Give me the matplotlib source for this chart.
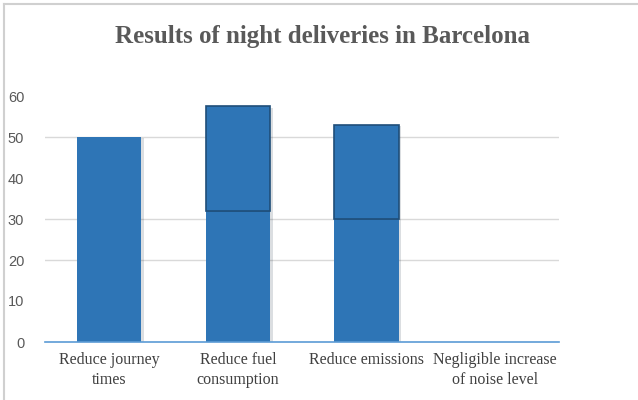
import matplotlib.pyplot as plt
import matplotlib.patheffects as pe
import numpy as np

categories = ["Reduce journey\ntimes", "Reduce fuel\nconsumption", "Reduce emissions",
              "Negligible increase\nof noise level"]
base_vals = [50, 32, 30, 0]
top_vals = [0, 25.5, 23, 0]
yticks = [0, 10, 20, 30, 40, 50, 60]
grid_at = [20, 30, 50]

blue = "#2e75b6"
fig = plt.figure(figsize=(6.38, 4.0), dpi=100)
ax = fig.add_axes([0.0705, 0.145, 0.806, 0.615])

x = np.arange(len(categories))
shadow = [pe.SimplePatchShadow(offset=(2, -1), alpha=0.15), pe.Normal()]
b1 = ax.bar(x, base_vals, width=0.5, color=blue, zorder=3)
b2 = ax.bar(x, top_vals, width=0.5, bottom=base_vals, color=blue,
            edgecolor="#1f4e79", linewidth=1.2, zorder=3)
for bars in (b1, b2):
    for r in bars:
        if r.get_height() > 0:
            r.set_path_effects(shadow)
        else:
            r.set_visible(False)

for g in grid_at:
    ax.axhline(g, color="#d9d9d9", lw=1, zorder=1)

ax.set_xlim(-0.5, 3.5)
ax.set_ylim(0, 60)
ax.set_yticks(yticks)
ax.set_yticklabels([str(v) for v in yticks], color="#595959", fontsize=10.5,
                   family="Liberation Sans")
ax.set_xticks(x)
ax.set_xticklabels(categories, color="#404040", fontsize=11.5, family="Liberation Serif",
                   linespacing=1.35)
ax.tick_params(length=0, pad=7)
ax.tick_params(axis="y", pad=15)
for s in ["top", "right", "left"]:
    ax.spines[s].set_visible(False)
ax.spines["bottom"].set_color("#5b9bd5")
ax.spines["bottom"].set_linewidth(1.2)
ax.spines["bottom"].set_zorder(4)

fig.text(0.505, 0.91, "Results of night deliveries in Barcelona", ha="center", va="center",
         fontsize=18, fontweight="bold", family="Liberation Serif", color="#595959")

# outer frame (left and top edges)
fig.add_artist(plt.Line2D([0.006, 0.006], [0, 0.99], color="#d0d0d0", lw=1.5,
                          transform=fig.transFigure))
fig.add_artist(plt.Line2D([0.006, 1], [0.99, 0.99], color="#d0d0d0", lw=1.5,
                          transform=fig.transFigure))

fig.savefig("out.png", dpi=100)
